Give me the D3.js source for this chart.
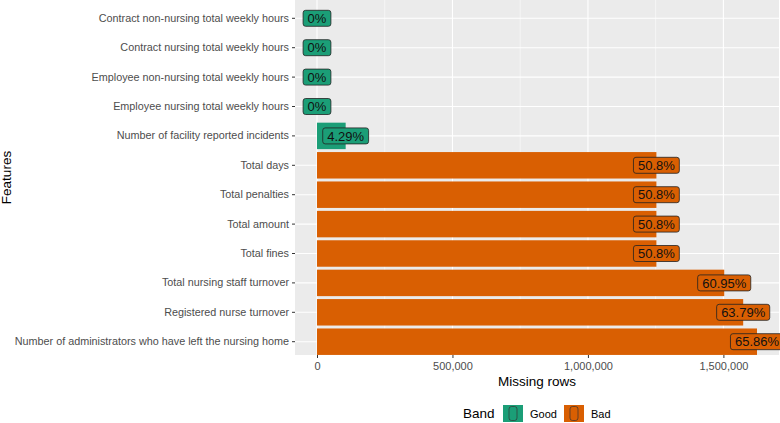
<!DOCTYPE html>
<html>
<head>
<meta charset="utf-8">
<script src="https://cdn.jsdelivr.net/npm/d3@7"></script>
<style>
  body { margin: 0; background: #fff; }
  text { font-family: "Liberation Sans", Arial, sans-serif; }
</style>
</head>
<body>
<div id="theGraph"></div>
<script>
const features = [
  "Contract non-nursing total weekly hours",
  "Contract nursing total weekly hours",
  "Employee non-nursing total weekly hours",
  "Employee nursing total weekly hours",
  "Number of facility reported incidents",
  "Total days",
  "Total penalties",
  "Total amount",
  "Total fines",
  "Total nursing staff turnover",
  "Registered nurse turnover",
  "Number of administrators who have left the nursing home"
];
const missingRows = [0, 0, 0, 0, 105800, 1252700, 1252700, 1252700, 1252700, 1503000, 1573000, 1624000];
const pctLabels = ["0%", "0%", "0%", "0%", "4.29%", "50.8%", "50.8%", "50.8%", "50.8%", "60.95%", "63.79%", "65.86%"];
const bands = ["Good", "Good", "Good", "Good", "Good", "Bad", "Bad", "Bad", "Bad", "Bad", "Bad", "Bad"];
const xTicks = [0, 500000, 1000000, 1500000];
const xMinorTicks = [250000, 750000, 1250000];
const bandNames = ["Good", "Bad"];
const bandColors = ["#1B9E77", "#D95F02"];

const width = 780, height = 423,
    panel = {left: 295, right: 779, top: 0, bottom: 355};

const data = features.map((f, i) => ({feature: f, value: missingRows[i], label: pctLabels[i], band: bands[i]}));

const svg = d3.select("#theGraph").append("svg").attr("width", width).attr("height", height);

const xScale = d3.scaleLinear().domain([-81200, 1705200]).range([panel.left, panel.right]);
const yScale = d3.scaleBand().domain(features).range([3.6, 356.4]).paddingInner(0.1).paddingOuter(0.05);
const color = d3.scaleOrdinal().domain(bandNames).range(bandColors);

// panel
svg.append("rect").attr("x", panel.left).attr("y", panel.top)
    .attr("width", panel.right - panel.left).attr("height", panel.bottom - panel.top)
    .attr("fill", "#EBEBEB");

const grid = svg.append("g");
grid.selectAll(".minor").data(xMinorTicks).enter().append("line")
    .attr("x1", d => xScale(d)).attr("x2", d => xScale(d))
    .attr("y1", panel.top).attr("y2", panel.bottom)
    .attr("stroke", "#fff").attr("stroke-width", 0.55);
grid.selectAll(".major").data(xTicks).enter().append("line")
    .attr("x1", d => xScale(d)).attr("x2", d => xScale(d))
    .attr("y1", panel.top).attr("y2", panel.bottom)
    .attr("stroke", "#fff").attr("stroke-width", 1.1);
grid.selectAll(".hmajor").data(features).enter().append("line")
    .attr("x1", panel.left).attr("x2", panel.right)
    .attr("y1", d => yScale(d) + yScale.bandwidth() / 2).attr("y2", d => yScale(d) + yScale.bandwidth() / 2)
    .attr("stroke", "#fff").attr("stroke-width", 1.1);

// bars
svg.append("g").selectAll("rect").data(data).enter().append("rect")
    .attr("x", xScale(0))
    .attr("y", d => yScale(d.feature))
    .attr("width", d => xScale(d.value) - xScale(0))
    .attr("height", yScale.bandwidth())
    .attr("fill", d => color(d.band));

// labels
const labels = svg.append("g").selectAll("g").data(data).enter().append("g")
    .attr("transform", d => `translate(${xScale(d.value)}, ${yScale(d.feature) + yScale.bandwidth() / 2})`);
labels.append("text")
    .attr("text-anchor", "middle").attr("dy", "0.36em")
    .attr("font-size", 13).attr("fill", "#111")
    .text(d => d.label)
    .each(function(d) { d.w = this.getComputedTextLength(); });
labels.insert("rect", "text")
    .attr("x", d => -d.w / 2 - 4.5).attr("y", -8)
    .attr("width", d => d.w + 9).attr("height", 16)
    .attr("rx", 2.5).attr("ry", 2.5)
    .attr("fill", d => color(d.band))
    .attr("stroke", "#222").attr("stroke-width", 0.8);

// axes
const xAxis = svg.append("g").attr("transform", `translate(0, ${panel.bottom})`)
    .call(d3.axisBottom(xScale).tickValues(xTicks).tickFormat(d3.format(",")).tickSize(3).tickPadding(4));
xAxis.select(".domain").remove();
xAxis.selectAll("line").attr("stroke", "#333");
xAxis.selectAll("text").attr("font-size", 11).attr("fill", "#4D4D4D").attr("font-family", "Liberation Sans, Arial, sans-serif");

const yAxis = svg.append("g").attr("transform", `translate(${panel.left}, 0)`)
    .call(d3.axisLeft(yScale).tickSize(3).tickPadding(3));
yAxis.select(".domain").remove();
yAxis.selectAll("line").attr("stroke", "#333");
yAxis.selectAll("text").attr("font-size", 10.8).attr("fill", "#4D4D4D").attr("font-family", "Liberation Sans, Arial, sans-serif");

svg.append("text").attr("x", (panel.left + panel.right) / 2).attr("y", 386)
    .attr("text-anchor", "middle").attr("font-size", 13.5).attr("fill", "#000")
    .text("Missing rows");
svg.append("text").attr("transform", `translate(11, ${(panel.top + panel.bottom) / 2}) rotate(-90)`)
    .attr("text-anchor", "middle").attr("font-size", 13.5).attr("fill", "#000")
    .text("Features");

// legend
const legend = svg.append("g").attr("transform", "translate(463, 405)");
legend.append("text").attr("x", 0).attr("y", 13).attr("font-size", 13.5).attr("fill", "#000").text("Band");
const keyX = [40, 101];
const keys = legend.selectAll(".key").data(bandNames).enter().append("g")
    .attr("transform", (d, i) => `translate(${keyX[i]}, 0)`);
keys.append("rect").attr("width", 20).attr("height", 17).attr("fill", d => color(d));
keys.append("rect").attr("x", 6).attr("y", 1.5).attr("width", 8).attr("height", 14)
    .attr("rx", 2.5).attr("fill", "none").attr("stroke", "#333").attr("stroke-width", 0.7);
keys.append("text").attr("x", 27).attr("y", 12.5).attr("font-size", 11).attr("fill", "#000").text(d => d);
</script>
</body>
</html>
